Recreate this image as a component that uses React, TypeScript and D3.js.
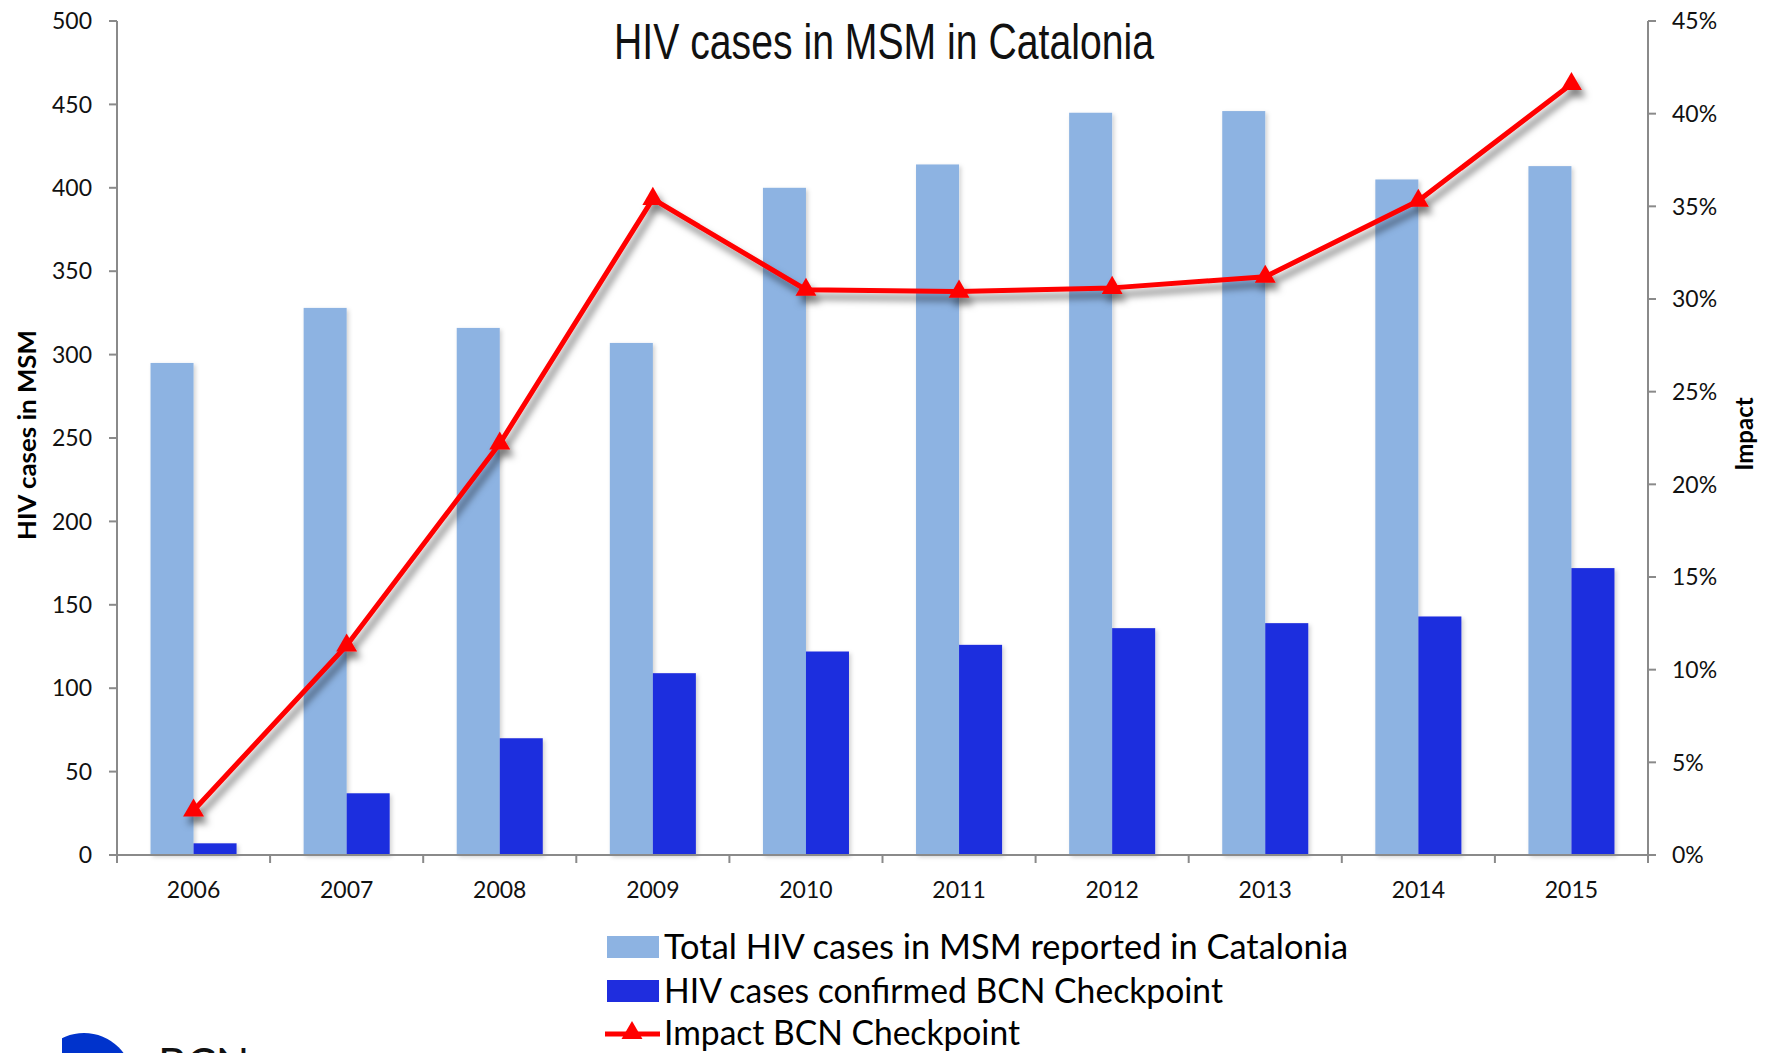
import React from "react";
import * as d3 from "d3";

const years = ["2006", "2007", "2008", "2009", "2010", "2011", "2012", "2013", "2014", "2015"];
const totalCatalonia = [295, 328, 316, 307, 400, 414, 445, 446, 405, 413];
const bcnConfirmed = [7, 37, 70, 109, 122, 126, 136, 139, 143, 172];
const impactPct = [2.4, 11.3, 22.2, 35.4, 30.5, 30.4, 30.6, 31.2, 35.3, 41.6];
const leftTicks = [0, 50, 100, 150, 200, 250, 300, 350, 400, 450, 500];
const rightTicks = [0, 5, 10, 15, 20, 25, 30, 35, 40, 45];
const legendLabels = [
  "Total HIV cases in MSM reported in Catalonia",
  "HIV cases confirmed BCN Checkpoint",
  "Impact BCN Checkpoint",
];

const W = 1771;
const H = 1053;
const X0 = 117;
const X1 = 1648;
const Y0 = 855;
const Y1 = 21;
const LIGHT = "#8DB3E2";
const DARK = "#1F2DDE";
const RED = "#FF0000";
const AXIS = "#8a8a8a";
const FONT = "Lato, 'Open Sans', sans-serif";

export default function App() {
  const x = d3.scaleBand<string>().domain(years).range([X0, X1]).paddingInner(0.438).paddingOuter(0.219);
  const step = x.step();
  const sub = d3.scaleBand<string>().domain(["t", "b"]).range([0, x.bandwidth()]);
  const y = d3.scaleLinear().domain([0, 500]).range([Y0, Y1]);
  const yr = d3.scaleLinear().domain([0, 45]).range([Y0, Y1]);
  const cx = (yy: string) => (x(yy) as number) + x.bandwidth() / 2;

  const line = d3
    .line<number>()
    .x((_, i) => cx(years[i]))
    .y((d) => yr(d));
  const tri = d3.symbol().type(d3.symbolTriangle).size(190)();

  const boundaries = d3.range(years.length + 1).map((i) => X0 + i * step);

  return (
    <svg
      width={W}
      height={H}
      viewBox={`0 0 ${W} ${H}`}
      style={{ position: "absolute", left: 0, top: 0, background: "#fff" }}
    >
      <defs>
        <filter id="barShadow" x="-20%" y="-5%" width="140%" height="110%">
          <feDropShadow dx="2" dy="2" stdDeviation="2" floodColor="#000" floodOpacity="0.18" />
        </filter>
        <filter id="lineShadow" x="-10%" y="-10%" width="120%" height="130%">
          <feDropShadow dx="4" dy="7" stdDeviation="3.5" floodColor="#000" floodOpacity="0.5" />
        </filter>
        <clipPath id="logoClip">
          <rect x={62} y={1000} width={100} height={60} />
        </clipPath>
      </defs>

      {/* Title */}
      <text
        x={884}
        y={59}
        textAnchor="middle"
        fontFamily="'Liberation Sans Narrow', 'Liberation Sans', Arial, sans-serif"
        fontSize={50}
        textLength={540}
        lengthAdjust="spacingAndGlyphs"
        fill="#111"
      >
        HIV cases in MSM in Catalonia
      </text>

      {/* Bars */}
      <g filter="url(#barShadow)">
        {years.map((yy, i) => (
          <rect
            key={"t" + yy}
            x={(x(yy) as number) + (sub("t") as number)}
            y={y(totalCatalonia[i])}
            width={sub.bandwidth()}
            height={Y0 - y(totalCatalonia[i])}
            fill={LIGHT}
          />
        ))}
        {years.map((yy, i) => (
          <rect
            key={"b" + yy}
            x={(x(yy) as number) + (sub("b") as number)}
            y={y(bcnConfirmed[i])}
            width={sub.bandwidth()}
            height={Y0 - y(bcnConfirmed[i])}
            fill={DARK}
          />
        ))}
      </g>

      {/* Axes */}
      <g stroke={AXIS} strokeWidth={2} fill="none">
        <line x1={X0} y1={Y1} x2={X0} y2={Y0} />
        <line x1={X1} y1={Y1} x2={X1} y2={Y0} />
        <line x1={X0 - 8} y1={Y0} x2={X1 + 8} y2={Y0} />
        {leftTicks.map((t) => (
          <line key={"lt" + t} x1={X0 - 8} x2={X0} y1={y(t)} y2={y(t)} />
        ))}
        {rightTicks.map((t) => (
          <line key={"rt" + t} x1={X1} x2={X1 + 8} y1={yr(t)} y2={yr(t)} />
        ))}
        {boundaries.map((b, i) => (
          <line key={"xt" + i} x1={b} x2={b} y1={Y0} y2={Y0 + 8} />
        ))}
      </g>

      <g fontFamily={FONT} fontSize={23} fill="#111">
        {leftTicks.map((t) => (
          <text key={"ll" + t} x={92} y={y(t)} dy="0.36em" textAnchor="end">
            {t}
          </text>
        ))}
        {rightTicks.map((t) => (
          <text key={"rl" + t} x={1672} y={yr(t)} dy="0.36em" textAnchor="start">
            {t + "%"}
          </text>
        ))}
        {years.map((yy) => (
          <text key={"xl" + yy} x={cx(yy)} y={898} textAnchor="middle">
            {yy}
          </text>
        ))}
      </g>

      {/* Axis titles */}
      <text
        transform="translate(36,435) rotate(-90)"
        textAnchor="middle"
        fontFamily={FONT}
        fontWeight="bold"
        fontSize={24}
        textLength={210}
        lengthAdjust="spacingAndGlyphs"
        fill="#000"
      >
        HIV cases in MSM
      </text>
      <text
        transform="translate(1753,434) rotate(-90)"
        textAnchor="middle"
        fontFamily={FONT}
        fontWeight="bold"
        fontSize={24}
        fill="#000"
      >
        Impact
      </text>

      {/* Impact line */}
      <g filter="url(#lineShadow)">
        <path d={line(impactPct) || ""} fill="none" stroke={RED} strokeWidth={5} strokeLinejoin="round" />
        {impactPct.map((v, i) => (
          <path key={"m" + i} d={tri || ""} transform={`translate(${cx(years[i])},${yr(v)})`} fill={RED} />
        ))}
      </g>

      {/* Legend */}
      <g fontFamily={FONT} fontSize={34} fill="#000">
        <rect x={607} y={936} width={52} height={22} fill={LIGHT} />
        <text x={664} y={959} textLength={684} lengthAdjust="spacingAndGlyphs">
          {legendLabels[0]}
        </text>
        <rect x={607} y={980} width={52} height={22} fill={DARK} />
        <text x={664} y={1003} textLength={559} lengthAdjust="spacingAndGlyphs">
          {legendLabels[1]}
        </text>
        <line x1={605} x2={660} y1={1034} y2={1034} stroke={RED} strokeWidth={5} />
        <path d={tri || ""} transform="translate(632,1033)" fill={RED} />
        <text x={664} y={1045} textLength={356} lengthAdjust="spacingAndGlyphs">
          {legendLabels[2]}
        </text>
      </g>

      {/* Cut-off logo at bottom-left */}
      <circle cx={84} cy={1082} r={49} fill="#0033CC" clipPath="url(#logoClip)" />
      <text x={158} y={1080} fontFamily={FONT} fontSize={44} fill="#111">
        BCN
      </text>
    </svg>
  );
}
